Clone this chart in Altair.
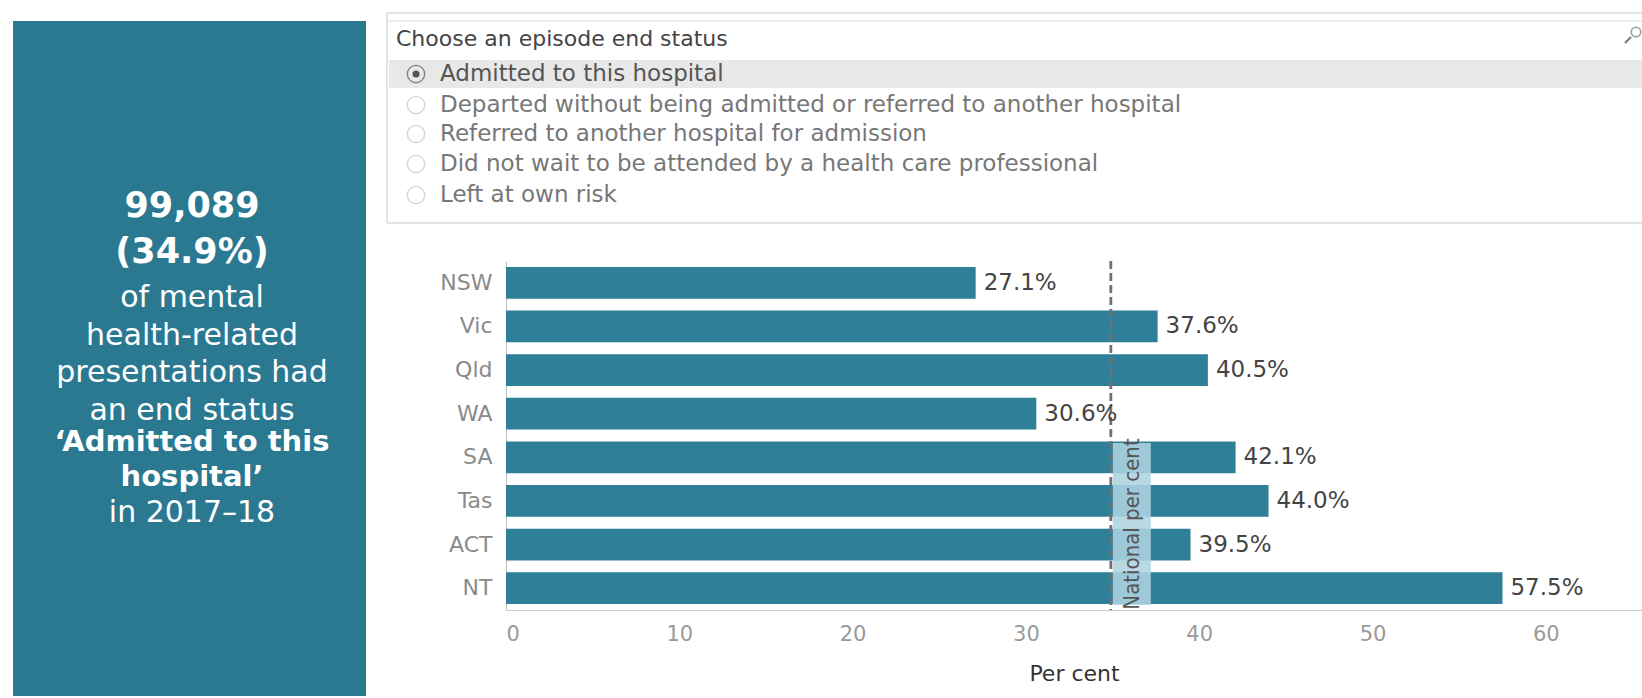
import altair as alt
import pandas as pd

# ---- data ----
states = ["NSW", "Vic", "Qld", "WA", "SA", "Tas", "ACT", "NT"]
values = [27.1, 37.6, 40.5, 30.6, 42.1, 44.0, 39.5, 57.5]
national = 34.9
ticks = [0, 10, 20, 30, 40, 50, 60]
options = [
    "Admitted to this hospital",
    "Departed without being admitted or referred to another hospital",
    "Referred to another hospital for admission",
    "Did not wait to be attended by a health care professional",
    "Left at own risk",
]
selected = 0
header = "Choose an episode end status"
panel_big = ["99,089", "(34.9%)"]
panel_body = ["of mental", "health-related", "presentations had", "an end status"]
panel_quote = ["\u2018Admitted to this", "hospital\u2019"]
panel_year = "in 2017\u201318"

FONT = "DejaVu Sans"
BAR = "#2f7f98"
PANEL = "#2b7891"

df = pd.DataFrame({"state": states, "value": values,
                   "label": [f"{v:.1f}%" for v in values]})
nat_df = pd.DataFrame({"nat": [national]})
one = alt.Data(values=[{}])

# plot origin in page pixels: (506, 261)
W, H = 1136, 349

x_scale = alt.Scale(domain=[0, 65.55], nice=False, zero=True)
y_scale = alt.Scale(domain=states, paddingInner=0.27, paddingOuter=0.135)

base = alt.Chart(df)
bars = base.mark_bar(color=BAR).encode(
    x=alt.X("value:Q", scale=x_scale,
            axis=alt.Axis(values=ticks, title="Per cent", grid=False, ticks=False,
                          domainColor="#c8c8c8", labelColor="#9a9a9a", labelFontSize=21,
                          labelFont=FONT, labelPadding=13, titleFont=FONT,
                          titleFontSize=22, titleFontWeight="normal", titleColor="#333333",
                          titlePadding=19)),
    y=alt.Y("state:N", scale=y_scale, sort=states,
            axis=alt.Axis(title=None, ticks=False, domainColor="#c0c0c0",
                          labelColor="#8a8a8a", labelFontSize=22, labelFont=FONT,
                          labelPadding=14)),
)
vals = base.mark_text(align="left", baseline="middle", dx=8, fontSize=23,
                      font=FONT, color="#444444").encode(
    x="value:Q", y=alt.Y("state:N", sort=states), text="label:N")

nat_rule = alt.Chart(nat_df).mark_rule(color="#707070", strokeWidth=2.8,
                                       strokeDash=[8, 4]).encode(x="nat:Q")
nat_box = alt.Chart(nat_df).mark_rect(color="#aed4e0", opacity=0.88,
                                      xOffset=2, x2Offset=40).encode(
    x="nat:Q", x2="nat:Q", y=alt.value(182), y2=alt.value(344))
nat_text = alt.Chart(nat_df).mark_text(angle=270, align="center", baseline="middle",
                                       xOffset=21, fontSize=22,
                                       font="Liberation Sans Narrow, DejaVu Sans Condensed",
                                       color="#555555").encode(
    x="nat:Q", y=alt.value(263), text=alt.value("National per cent"))


def txt(t, x, y, size, color, weight="normal", align="left", font=FONT, lh=None):
    kw = dict(align=align, baseline="middle", fontSize=size, color=color,
              fontWeight=weight, font=font)
    if lh is not None:
        kw["lineHeight"] = lh
    return alt.Chart(one).mark_text(**kw).encode(
        x=alt.value(x), y=alt.value(y), text=alt.value(t))


def box(x, x2, y, y2, fill, stroke=None, sw=1):
    kw = dict(fill=fill)
    if stroke:
        kw.update(stroke=stroke, strokeWidth=sw)
    return alt.Chart(one).mark_rect(**kw).encode(
        x=alt.value(x), x2=alt.value(x2), y=alt.value(y), y2=alt.value(y2))


layers = []
# left panel
layers.append(box(-493, -140, -240, 440, PANEL))
layers.append(txt(panel_big, -314, -55, 35, "white", "bold", "center", lh=46))
layers.append(txt(panel_body, -314, 37, 30, "white", "normal", "center", lh=37.5))
layers.append(txt(panel_quote, -314, 181, 29, "white", "bold", "center", lh=35))
layers.append(txt(panel_year, -314, 252, 30, "white", "normal", "center"))

# selector box
layers.append(box(-119, 1150, -248, -38, "white", "#c8c8c8", 1))
layers.append(alt.Chart(one).mark_rule(color="#dddddd").encode(
    x=alt.value(-119), x2=alt.value(1150), y=alt.value(-240)))
layers.append(txt(header, -110, -222, 22, "#444444"))
opt_y = [-187, -156, -127, -97, -66]
layers.append(box(-117, 1150, -201, -173, "#e8e8e8"))
for i, (o, yy) in enumerate(zip(options, opt_y)):
    sel = i == selected
    layers.append(alt.Chart(one).mark_point(shape="circle", size=300, filled=False,
                                            color="#555555" if sel else "#c4c4c4",
                                            strokeWidth=1.4).encode(
        x=alt.value(-90), y=alt.value(yy)))
    if sel:
        layers.append(alt.Chart(one).mark_point(shape="circle", size=50, filled=True,
                                                color="#555555", opacity=1).encode(
            x=alt.value(-90), y=alt.value(yy)))
    layers.append(txt(o, -66, yy, 23, "#555555" if sel else "#777777"))
# search icon
layers.append(alt.Chart(one).mark_point(shape="circle", size=90, filled=False,
                                        color="#777777", strokeWidth=1.6).encode(
    x=alt.value(1130), y=alt.value(-229)))
layers.append(alt.Chart(one).mark_rule(color="#777777", strokeWidth=2).encode(
    x=alt.value(1125), x2=alt.value(1119), y=alt.value(-224), y2=alt.value(-218)))

chart = alt.layer(*layers, bars, nat_rule, nat_box, nat_text, vals).properties(
    width=W, height=H,
    padding={"left": 506, "top": 261, "right": 0, "bottom": 86},
    autosize=alt.AutoSizeParams(type="none"),
    background="white",
).configure_view(stroke=None)

chart.save("out.html", embed_options={"renderer": "svg", "actions": False})
